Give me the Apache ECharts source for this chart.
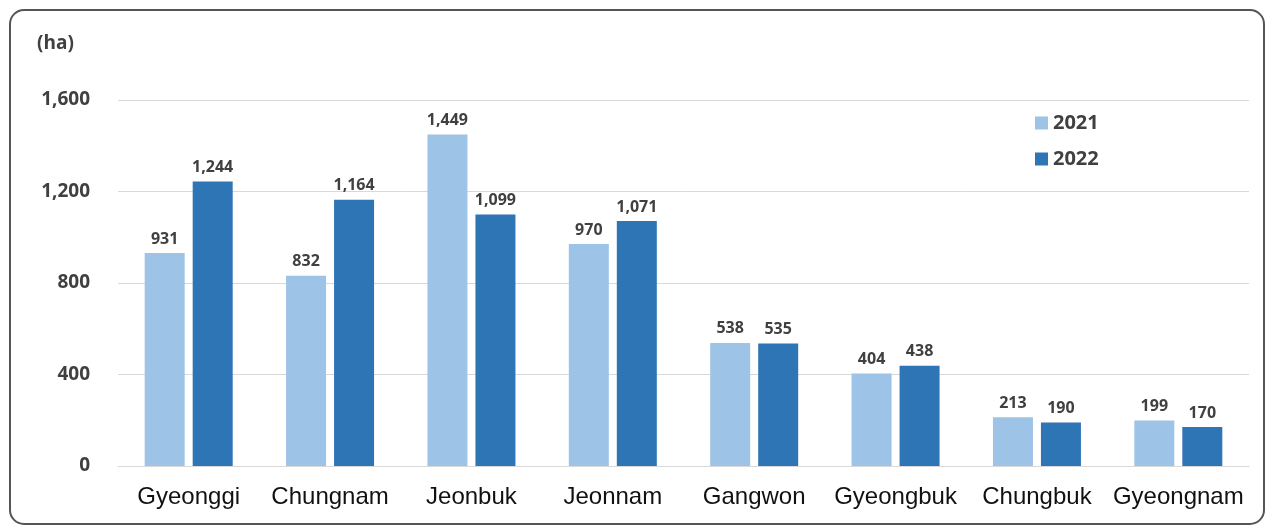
<!DOCTYPE html>
<html><head><meta charset="utf-8">
<script src="https://cdn.jsdelivr.net/npm/echarts@6/dist/echarts.min.js"></script>
<style>html,body{margin:0;padding:0;background:#fff}#c{width:1267px;height:528px}</style>
</head><body><div id="c"></div>
<script>
const categories = ['Gyeonggi','Chungnam','Jeonbuk','Jeonnam','Gangwon','Gyeongbuk','Chungbuk','Gyeongnam'];
const values2021 = [931, 832, 1449, 970, 538, 404, 213, 199];
const values2022 = [1244, 1164, 1099, 1071, 535, 438, 190, 170];
const yTicks = [0, 400, 800, 1200, 1600];

const chart = echarts.init(document.getElementById('c'), null, {renderer:'canvas'});
const labelStyle = {show:true, position:'top', distance:6, color:'#404040', fontFamily:'Open Sans', fontWeight:'bold', fontSize:16,
  formatter: p => p.value.toLocaleString('en-US')};
chart.setOption({
  animation:false,
  graphic:[
    {type:'rect', shape:{x:10, y:10, width:1254, height:514, r:14}, style:{fill:'none', stroke:'#555', lineWidth:2}},
    {type:'text', left:37, top:34, style:{text:'(ha)', fill:'#404040', font:'bold 19px "Open Sans"'}}
  ],
  legend:{orient:'vertical', left:1030, top:108, itemWidth:13, itemHeight:13, itemGap:16, icon:'rect',
    textStyle:{color:'#404040', fontFamily:'Open Sans', fontWeight:'bold', fontSize:20}},
  grid:{left:118, right:18, top:100, bottom:62},
  xAxis:{type:'category', data:categories, axisTick:{show:false}, axisLine:{lineStyle:{color:'#d9d9d9'}},
    axisLabel:{color:'#111', fontFamily:'Liberation Sans', fontSize:24, margin:19, interval:0}},
  yAxis:{type:'value', min:yTicks[0], max:yTicks[yTicks.length-1], interval:400,
    axisLabel:{color:'#404040', fontFamily:'Open Sans', fontWeight:'bold', fontSize:19, margin:28,
      formatter: v => v.toLocaleString('en-US')},
    splitLine:{lineStyle:{color:'#d9d9d9'}}, axisLine:{show:false}, axisTick:{show:false}},
  series:[
    {name:'2021', type:'bar', data:values2021, barWidth:40, barGap:'20%', itemStyle:{color:'#9DC3E6'}, label:labelStyle},
    {name:'2022', type:'bar', data:values2022, barWidth:40, itemStyle:{color:'#2E75B6'}, label:labelStyle}
  ]
});
</script></body></html>
